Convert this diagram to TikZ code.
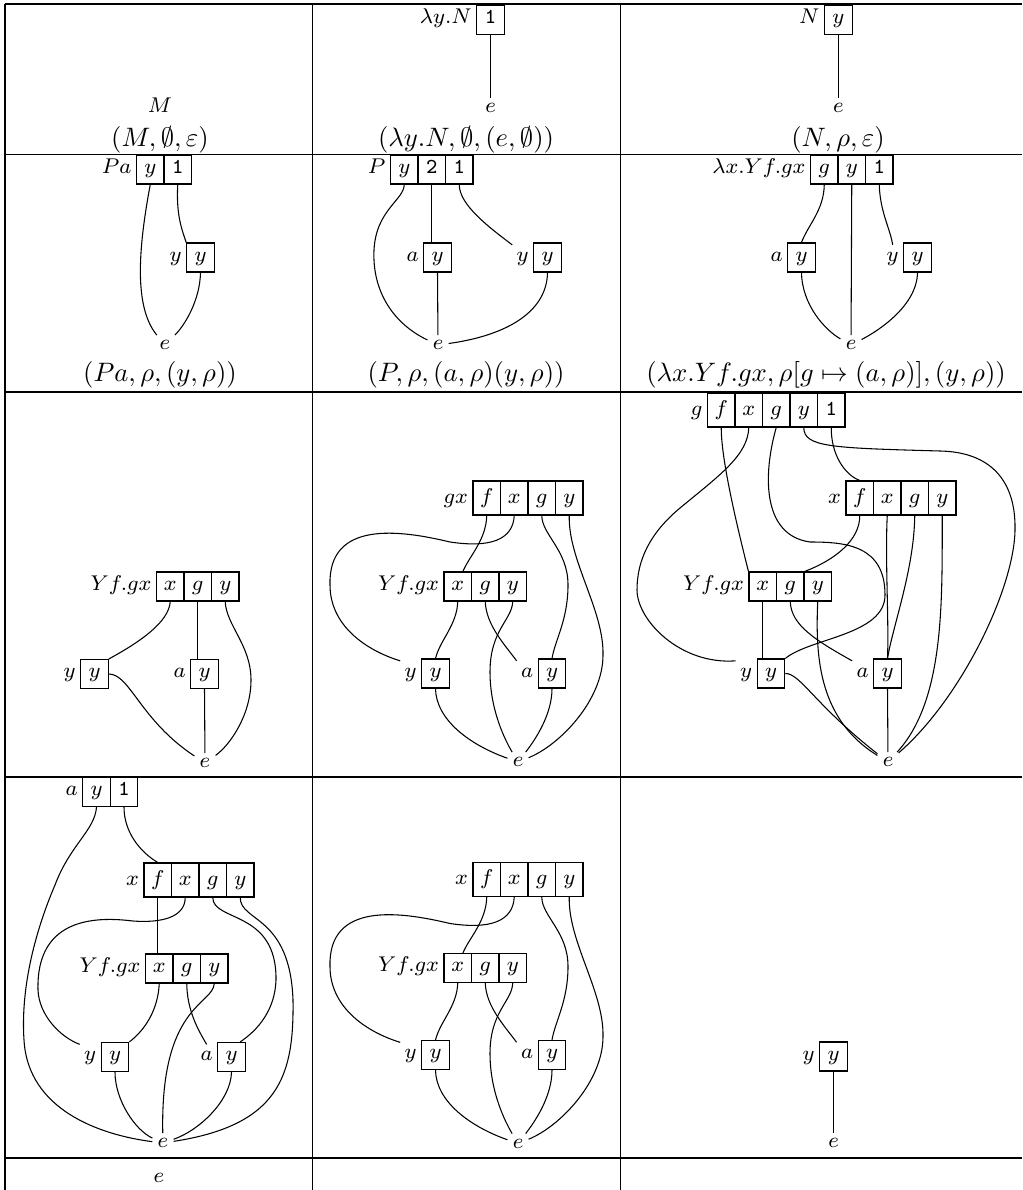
\documentclass[tikz,border=0pt]{standalone}
\usetikzlibrary{calc}
\newcommand\drawgraphB[3]{%
\begin{scope}[shift={(0,#2)}]
\node[cellf] (#1f) at (486.75,498) {$f$};
\node[cellf] (#1x) at (514.25,498) {$x$};
\node[cellf] (#1g) at (541.75,498) {$g$};
\node[cellf] (#1y) at (569.25,498) {$y$};
\node[lblf] (#1l) at (#1f.base west) {#3};
\node[cellbox] (#1X) at (457.75,586.5) {$x$};
\node[cellbox] (#1G) at (485.25,586.5) {$g$};
\node[cellbox] (#1Y) at (512.75,586.5) {$y$};
\node[lbl] (#1L) at (#1X.base west) {$Yf.gx$};
\node[cellbox] (#1yb) at (435.5,673.5) {$y$};
\node[lbl] (#1yl) at (#1yb.base west) {$y$};
\node[cellbox] (#1ab) at (552,673.5) {$y$};
\node[lbl] (#1al) at (#1ab.base west) {$a$};
\node[enode] (#1e) at (518,762) {$e$};
\draw (#1f.south) .. controls (486,540) and (470,555) .. ($(#1X.north)!0.36!(#1X.north east)$);
\draw (#1x.south) .. controls (513,540) and (490,548) .. (450,542) .. controls (400,530) and (328,520) .. (330,585) .. controls (330,625) and (365,650) .. (#1yl.north west);
\draw (#1g.south) .. controls (542,535) and (568,550) .. (568,585) .. controls (568,620) and (555,640) .. (#1ab.north);
\draw (#1y.south) .. controls (568,560) and (604,610) .. (603,655) .. controls (603,700) and (560,745) .. (#1e);
\draw (#1X.south) .. controls (457,625) and (440,640) .. (#1yb.north);
\draw (#1G.south) .. controls (486,625) and (505,645) .. (#1al.north west);
\draw (#1Y.south) .. controls (512,620) and (490,630) .. (490,672) .. controls (490,710) and (505,740) .. (#1e);
\draw (#1yb.south) .. controls (436,720) and (470,745) .. (#1e);
\draw (#1ab.south) .. controls (552,715) and (535,740) .. (#1e);
\end{scope}}
\begin{document}
\begin{tikzpicture}[x=0.375pt,y=-0.375pt,
  cellbox/.style={draw, inner sep=0pt, minimum width=10.3125pt, minimum height=10.875pt, text height=4.5pt, text depth=1.6pt, font=\fontsize{8}{9.6}\selectfont},
  cellf/.style={cellbox, minimum height=12.75pt, text height=5.6pt},
  lbl/.style={inner sep=1.5pt, text height=4.5pt, text depth=1.6pt, font=\fontsize{8}{9.6}\selectfont, anchor=base east},
  lblf/.style={lbl, text height=5.6pt},
  enode/.style={inner sep=1.8pt, font=\fontsize{8}{9.6}\selectfont},
  captext/.style={inner sep=0pt, font=\fontsize{10}{12}\selectfont},
  gridline/.style={line width=0.5pt}]
\useasboundingbox (0,0) rectangle (1022,1190);
% grid
\draw[gridline] (5,4) -- (1022,4);
\draw[gridline] (5,154.5) -- (1022,154.5);
\draw[gridline] (5,392) -- (1022,392);
\draw[gridline] (5,777) -- (1022,777);
\draw[gridline] (5,1158) -- (1022,1158);
\draw[gridline] (5,4) -- (5,1190);
\draw[gridline] (312.5,4) -- (312.5,1190);
\draw[gridline] (620.5,4) -- (620.5,1190);
% ---------- row 1
\node[enode, anchor=base] (r1aM) at (160,112.5) {$M$};
\node[captext] (r1acap) at (160,140) {$(M,\emptyset,\varepsilon)$};
\node[cellbox] (r1b1) at (490.5,20) {\texttt{1}};
\node[lbl] (r1bl) at (r1b1.base west) {$\lambda y.N$};
\node[enode] (r1be) at (490.5,108) {$e$};
\draw (r1b1) -- (r1be);
\node[captext] (r1bcap) at (466,140) {$(\lambda y.N,\emptyset,(e,\emptyset))$};
\node[cellbox] (r1c1) at (838.3,20) {$y$};
\node[lbl] (r1cl) at (r1c1.base west) {$N$};
\node[enode] (r1ce) at (838.3,108) {$e$};
\draw (r1c1) -- (r1ce);
\node[captext] (r1ccap) at (838,140) {$(N,\rho,\varepsilon)$};
% ---------- row 2 col 1
\node[cellbox] (r2aY) at (150.25,169.5) {$y$};
\node[cellbox] (r2aO) at (177.75,169.5) {\texttt{1}};
\node[lbl] (r2al0) at (r2aY.base west) {$Pa$};
\node[cellbox] (r2ab) at (200.5,257.5) {$y$};
\node[lbl] (r2al) at (r2ab.base west) {$y$};
\node[enode] (r2ae) at (165,345) {$e$};
\draw (r2aY.south) .. controls (140,240) and (132,305) .. (r2ae);
\draw (r2aO.south) .. controls (176,215) and (182,230) .. (r2ab.north west);
\draw (r2ab.south) .. controls (200,300) and (185,325) .. (r2ae);
\node[captext] (r2acap) at (160,375) {$(Pa,\rho,(y,\rho))$};
% ---------- row 2 col 2
\node[cellbox] (r2bY) at (404.25,169.5) {$y$};
\node[cellbox] (r2bT) at (431.75,169.5) {\texttt{2}};
\node[cellbox] (r2bO) at (459.25,169.5) {\texttt{1}};
\node[lbl] (r2bl0) at (r2bY.base west) {$P$};
\node[cellbox] (r2bab) at (437.5,257.5) {$y$};
\node[lbl] (r2bal) at (r2bab.base west) {$a$};
\node[cellbox] (r2byb) at (547.5,257.5) {$y$};
\node[lbl] (r2byl) at (r2byb.base west) {$y$};
\node[enode] (r2be) at (438,345) {$e$};
\draw (r2bY.south) .. controls (404,200) and (376,210) .. (374,250) .. controls (372,292) and (394,324) .. (r2be);
\draw (r2bT.south) -- (r2bT.south |- r2bab.north);
\draw (r2bab.south) -- (r2be);
\draw (r2bO.south) .. controls (459,205) and (490,228) .. (r2byl.north west);
\draw (r2byb.south) .. controls (547,310) and (510,335) .. (r2be);
\node[captext] (r2bcap) at (466,375) {$(P,\rho,(a,\rho)(y,\rho))$};
% ---------- row 2 col 3
\node[cellbox] (r2cG) at (824.25,169.5) {$g$};
\node[cellbox] (r2cY) at (851.75,169.5) {$y$};
\node[cellbox] (r2cO) at (879.25,169.5) {\texttt{1}};
\node[lbl] (r2cl0) at (r2cG.base west) {$\lambda x.Yf.gx$};
\node[cellbox] (r2cab) at (801.5,257.5) {$y$};
\node[lbl] (r2cal) at (r2cab.base west) {$a$};
\node[cellbox] (r2cyb) at (917.5,257.5) {$y$};
\node[lbl] (r2cyl) at (r2cyb.base west) {$y$};
\node[enode] (r2ce) at (851,345) {$e$};
\draw (r2cG.south) .. controls (824,210) and (808,225) .. (r2cab.north);
\draw (r2cY.south) -- (r2ce);
\draw (r2cO.south) .. controls (880,212) and (890,228) .. (r2cyl.north);
\draw (r2cab.south) .. controls (802,305) and (825,330) .. (r2ce);
\draw (r2cyb.south) .. controls (917,305) and (880,330) .. (r2ce);
\node[captext] (r2ccap) at (826,375) {$(\lambda x.Yf.gx,\rho[g\mapsto(a,\rho)],(y,\rho))$};
% ---------- row 3 col 1
\node[cellbox] (r3aX) at (170.25,586.5) {$x$};
\node[cellbox] (r3aG) at (197.75,586.5) {$g$};
\node[cellbox] (r3aY) at (225.25,586.5) {$y$};
\node[lbl] (r3aL) at (r3aX.base west) {$Yf.gx$};
\node[cellbox] (r3ayb) at (94.5,674) {$y$};
\node[lbl] (r3ayl) at (r3ayb.base west) {$y$};
\node[cellbox] (r3aab) at (204.5,674) {$y$};
\node[lbl] (r3aal) at (r3aab.base west) {$a$};
\node[enode] (r3ae) at (205,763) {$e$};
\draw (r3aX.south) .. controls (169,622) and (140,642) .. (r3ayb.north east);
\draw (r3aG.south) -- (r3aG.south |- r3aab.north);
\draw (r3aY.south) .. controls (226,625) and (251,645) .. (251,680) .. controls (251,715) and (230,745) .. (r3ae);
\draw (r3ayb.east) .. controls (130,674) and (140,720) .. (r3ae);
\draw (r3aab.south) -- (r3ae);
% ---------- row 3 col 2
\drawgraphB{r3b}{0}{$gx$}
% ---------- row 3 col 3
\node[cellf] (r3cf) at (721.25,410) {$f$};
\node[cellf] (r3cx) at (748.75,410) {$x$};
\node[cellf] (r3cg) at (776.25,410) {$g$};
\node[cellf] (r3cy) at (803.75,410) {$y$};
\node[cellf] (r3co) at (831.25,410) {\texttt{1}};
\node[lblf] (r3cl0) at (r3cf.base west) {$g$};
\node[cellf] (r3cxf) at (859.75,498) {$f$};
\node[cellf] (r3cxx) at (887.25,498) {$x$};
\node[cellf] (r3cxg) at (914.75,498) {$g$};
\node[cellf] (r3cxy) at (942.25,498) {$y$};
\node[lblf] (r3cl1) at (r3cxf.base west) {$x$};
\node[cellbox] (r3cX) at (762.75,586.5) {$x$};
\node[cellbox] (r3cG) at (790.25,586.5) {$g$};
\node[cellbox] (r3cY) at (817.75,586.5) {$y$};
\node[lbl] (r3cL) at (r3cX.base west) {$Yf.gx$};
\node[cellbox] (r3cyb) at (771,673.5) {$y$};
\node[lbl] (r3cyl) at (r3cyb.base west) {$y$};
\node[cellbox] (r3cab) at (887.5,673.5) {$y$};
\node[lbl] (r3cal) at (r3cab.base west) {$a$};
\node[enode] (r3ce) at (888,762) {$e$};
\draw (r3cf.south) .. controls (721,460) and (738,530) .. (r3cX.north west);
\draw (r3cx.south) .. controls (748,455) and (720,475) .. (680,508) .. controls (650,533) and (637,560) .. (637,590) .. controls (637,620) and (680,665) .. (r3cyl.north west);
\draw (r3cg.south) .. controls (764,470) and (760,535) .. (810,542) .. controls (845,542) and (885,545) .. (885,595) .. controls (885,635) and (810,638) .. (r3cyb.north east);
\draw (r3cy.south) .. controls (804,447) and (830,448) .. (940,451) .. controls (990,452) and (1016,480) .. (1015,530) .. controls (1014,590) and (960,700) .. (r3ce);
\draw (r3co.south) .. controls (831,455) and (845,475) .. (r3cxf.north);
\draw (r3cxf.south) .. controls (860,540) and (835,560) .. (r3cG.north east);
\draw (r3cxx.south) .. controls (885,560) and (889,620) .. (r3cab.north);
\draw (r3cxg.south) .. controls (914,570) and (893,625) .. (r3cab.north);
\draw (r3cxy.south) .. controls (942,600) and (945,700) .. (r3ce);
\draw (r3cX.south) -- (r3cX.south |- r3cyb.north);
\draw (r3cG.south) .. controls (791,625) and (815,640) .. (r3cal.north west);
\draw (r3cY.south) .. controls (815,660) and (820,720) .. (r3ce);
\draw (r3cyb.east) .. controls (800,673) and (815,705) .. (r3ce);
\draw (r3cab.south) -- (r3ce);
% ---------- row 4 col 1
\node[cellbox] (r4aY) at (96.5,792) {$y$};
\node[cellbox] (r4aO) at (124,792) {\texttt{1}};
\node[lbl] (r4al0) at (r4aY.base west) {$a$};
\node[cellf] (r4af) at (157.75,880) {$f$};
\node[cellf] (r4ax) at (185.25,880) {$x$};
\node[cellf] (r4ag) at (212.75,880) {$g$};
\node[cellf] (r4ay) at (240.25,880) {$y$};
\node[lblf] (r4al1) at (r4af.base west) {$x$};
\node[cellbox] (r4aX) at (159.25,968.5) {$x$};
\node[cellbox] (r4aG) at (186.75,968.5) {$g$};
\node[cellbox] (r4aYY) at (214.25,968.5) {$y$};
\node[lbl] (r4aL) at (r4aX.base west) {$Yf.gx$};
\node[cellbox] (r4ayb) at (115,1057) {$y$};
\node[lbl] (r4ayl) at (r4ayb.base west) {$y$};
\node[cellbox] (r4aab) at (231.5,1057) {$y$};
\node[lbl] (r4aal) at (r4aab.base west) {$a$};
\node[enode] (r4ae) at (163,1143) {$e$};
\draw (r4aY.south) .. controls (95,830) and (70,845) .. (55,885) .. controls (40,920) and (20,980) .. (24,1040) .. controls (28,1110) and (100,1135) .. (r4ae);
\draw (r4aO.south) .. controls (124,832) and (140,852) .. (r4af.north);
\draw (r4af.south) -- (r4af.south |- r4aX.north);
\draw (r4ax.south) .. controls (185,918) and (160,923) .. (133,921) .. controls (100,917) and (36,915) .. (38,990) .. controls (39,1015) and (60,1037) .. (r4ayl.north west);
\draw (r4ag.south) .. controls (213,922) and (277,910) .. (276,980) .. controls (275,1010) and (258,1030) .. ($(r4aab.north)!0.6!(r4aab.north east)$);
\draw (r4ay.south) .. controls (240,922) and (290,915) .. (293,1000) .. controls (294,1075) and (280,1125) .. (r4ae);
\draw (r4aX.south) .. controls (158,1010) and (145,1030) .. (r4ayb.north east);
\draw (r4aG.south) .. controls (187,1010) and (198,1030) .. (r4aal.north);
\draw (r4aYY.south) .. controls (213,1005) and (160,1005) .. (r4ae);
\draw (r4ayb.south) .. controls (115,1100) and (135,1130) .. (r4ae);
\draw (r4aab.south) .. controls (231,1100) and (200,1130) .. (r4ae);
% ---------- row 4 col 2
\drawgraphB{r4b}{381.5}{$x$}
% ---------- row 4 col 3
\node[cellbox] (r4cb) at (833.5,1056.5) {$y$};
\node[lbl] (r4cl) at (r4cb.base west) {$y$};
\node[enode] (r4ce) at (833.5,1143) {$e$};
\draw (r4cb) -- (r4ce);
% ---------- row 5
\node[enode] (r5ae) at (159,1178) {$e$};
\end{tikzpicture}
\end{document}
